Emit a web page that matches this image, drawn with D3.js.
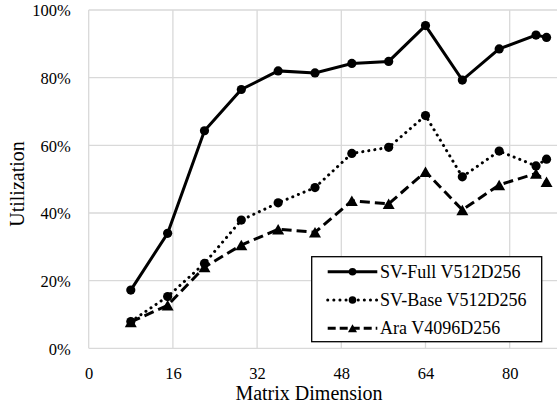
<!DOCTYPE html>
<html><head><meta charset="utf-8">
<script src="https://cdn.jsdelivr.net/npm/d3@7"></script>
<style>body{margin:0;background:#fff}svg{display:block}</style>
</head><body><svg id="c" width="557" height="404"></svg>
<script>
const dims = [8,15,22,29,36,43,50,57,64,71,78,85,87];
const svFull = [17.2,34.0,64.3,76.5,82.0,81.4,84.2,84.8,95.4,79.3,88.5,92.6,91.9];
const svBase = [7.9,15.3,25.1,37.9,43.0,47.5,57.6,59.4,68.8,50.7,58.3,53.9,55.9];
const ara = [7.8,12.7,24.0,30.5,35.2,34.3,43.6,42.7,52.2,40.9,48.3,51.7,49.2];
const xTicks = [0,16,32,48,64,80];
const yTicks = [0,20,40,60,80,100];
const seriesNames = ["SV-Full V512D256","SV-Base V512D256","Ara V4096D256"];

const svg = d3.select("#c");
const FONT = "Liberation Serif, Times New Roman, Tinos, Noto Serif, DejaVu Serif";
const x = d3.scaleLinear().domain([0,80]).range([88.7,509.7]);
const y = d3.scaleLinear().domain([0,100]).range([348.3,10]);
const xRight = 557;

const grid = svg.append("g").attr("stroke","#d9d9d9").attr("stroke-width",1.3);
yTicks.forEach(t => grid.append("line").attr("x1",x(0)).attr("x2",xRight).attr("y1",y(t)).attr("y2",y(t)));
xTicks.forEach(t => grid.append("line").attr("x1",x(t)).attr("x2",x(t)).attr("y1",y(0)).attr("y2",y(100)));

const yAxis = svg.append("g").attr("transform",`translate(${x(0)},0)`)
  .call(d3.axisLeft(y).tickValues(yTicks).tickFormat(d=>d+"%").tickSize(0).tickPadding(18));
const xAxis = svg.append("g").attr("transform",`translate(0,${y(0)})`)
  .call(d3.axisBottom(x).tickValues(xTicks).tickSize(0).tickPadding(18));
[yAxis,xAxis].forEach(a=>{a.select(".domain").remove();
  a.selectAll("text").style("font-family",FONT).style("font-size","16.5px").attr("fill","#000");});
yAxis.selectAll("text").attr("dy","0.35em");
xAxis.selectAll("text").attr("dy",null).attr("y",25.7).attr("dominant-baseline","central");

svg.append("text").attr("x",309).attr("y",393).attr("text-anchor","middle").attr("dominant-baseline","central")
  .style("font-family",FONT).style("font-size","20px").text("Matrix Dimension");
svg.append("text").attr("transform","translate(16.7,184) rotate(-90)").attr("text-anchor","middle").attr("dominant-baseline","central")
  .style("font-family",FONT).style("font-size","20px").text("Utilization");

const series = [
  {name:seriesNames[0], vals:svFull, dash:null, marker:"circle"},
  {name:seriesNames[1], vals:svBase, dash:"0.1,6", marker:"circle"},
  {name:seriesNames[2], vals:ara, dash:"10,5", marker:"tri"}
];
const line = d3.line().x(d=>x(d[0])).y(d=>y(d[1]));
function tri(w,h){return `M0,${-h/2}L${w/2},${h/2}L${-w/2},${h/2}Z`;}

series.forEach(s=>{
  const pts = dims.map((d,i)=>[d,s.vals[i]]);
  const p = svg.append("path").attr("d",line(pts)).attr("fill","none").attr("stroke","#000").attr("stroke-width",3);
  if(s.dash){p.attr("stroke-dasharray",s.dash); if(s.marker==="circle") p.attr("stroke-linecap","round");}
  const g = svg.append("g");
  pts.forEach(pt=>{
    if(s.marker==="circle") g.append("circle").attr("cx",x(pt[0])).attr("cy",y(pt[1])).attr("r",4.6).attr("fill","#000");
    else g.append("path").attr("transform",`translate(${x(pt[0])},${y(pt[1])})`).attr("d",tri(12,10.5)).attr("fill","#000");
  });
});

const lg = svg.append("g");
lg.append("rect").attr("x",311.7).attr("y",256.7).attr("width",230).attr("height",85)
  .attr("fill","#fff").attr("stroke","#000").attr("stroke-width",1.3);
const rowY = [271.7,300,328.3];
series.forEach((s,i)=>{
  const l = lg.append("line").attr("x1",327.7).attr("x2",377.3).attr("y1",rowY[i]).attr("y2",rowY[i])
    .attr("stroke","#000").attr("stroke-width",3);
  if(s.dash){l.attr("stroke-dasharray",s.dash==="10,5"?"8,4":s.dash); if(s.marker==="circle") l.attr("stroke-linecap","round");}
  if(s.marker==="circle") lg.append("circle").attr("cx",352.5).attr("cy",rowY[i]).attr("r",3.8).attr("fill","#000");
  else lg.append("path").attr("transform",`translate(352.5,${rowY[i]})`).attr("d",tri(9,8)).attr("fill","#000");
  lg.append("text").attr("x",380).attr("y",rowY[i]).attr("dominant-baseline","central")
    .style("font-family",FONT).style("font-size","18px").text(s.name);
});
</script></body></html>
